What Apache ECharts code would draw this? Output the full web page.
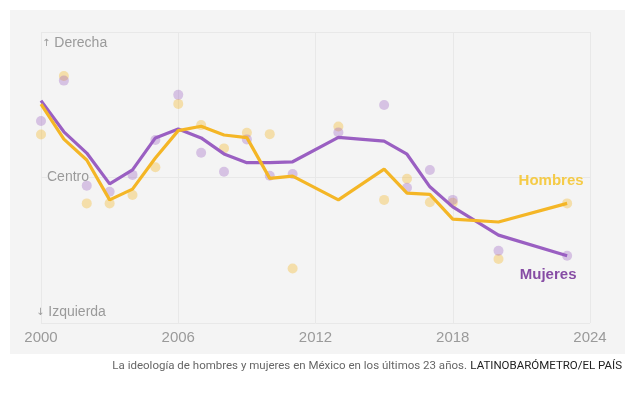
<!DOCTYPE html>
<html>
<head>
<meta charset="utf-8">
<script src="https://cdn.jsdelivr.net/npm/echarts@6/dist/echarts.min.js"></script>
<style>
  html, body { margin: 0; padding: 0; background: #fff; }
  #chart { width: 637px; height: 397px; }
</style>
</head>
<body>
<div id="chart"></div>
<script>
// años de la encuesta
var years = [2000, 2001, 2002, 2003, 2004, 2005, 2006, 2007, 2008, 2009, 2010, 2011, 2013, 2015, 2016, 2017, 2018, 2020, 2023];

// escala 0 (izquierda) - 10 (derecha), centro = 5
var hombresLinea = [7.52, 6.32, 5.60, 4.23, 4.60, 5.67, 6.61, 6.76, 6.46, 6.37, 4.97, 5.05, 4.23, 5.29, 4.46, 4.42, 3.57, 3.47, 4.11];
var mujeresLinea = [7.64, 6.57, 5.84, 4.78, 5.26, 6.36, 6.67, 6.36, 5.81, 5.51, 5.51, 5.54, 6.38, 6.25, 5.80, 4.68, 3.99, 3.02, 2.31];
var hombresPuntos = [6.48, 8.49, 4.11, 4.11, 4.40, 5.35, 7.53, 6.80, 6.00, 6.54, 6.49, 1.87, 6.75, 4.23, 4.96, 4.15, 4.13, 2.20, 4.11];
var mujeresPuntos = [6.94, 8.33, 4.72, 4.51, 5.09, 6.29, 7.84, 5.85, 5.20, 6.31, 5.06, 5.12, 6.55, 7.49, 4.65, 5.26, 4.23, 2.48, 2.31];

var yLabels = [
    {value: 10, arrow: '↑', text: 'Derecha'},
    {value: 5, arrow: '', text: 'Centro'},
    {value: 0, arrow: '↓', text: 'Izquierda'}
];
var caption = 'La ideología de hombres y mujeres en México en los últimos 23 años.';
var source = 'LATINOBARÓMETRO/EL PAÍS';

var AMARILLO = '#f4b626';
var MORADO = '#9a5fc2';
var GRIS = '#9a9a9a';
var FONT = '"Liberation Sans", Arial, sans-serif';

function pairs(vals) {
    var out = [];
    for (var i = 0; i < years.length; i++) {
        out.push([years[i], vals[i]]);
    }
    return out;
}

// el último punto lleva la etiqueta de la serie
function dotsWithLabel(vals, name, color, pos, offset) {
    var data = pairs(vals);
    var last = data.length - 1;
    data[last] = {
        value: data[last],
        label: {
            show: true,
            formatter: name,
            position: pos,
            offset: offset,
            color: color,
            fontFamily: FONT,
            fontWeight: 'bold',
            fontSize: 15
        }
    };
    return data;
}

var chart = echarts.init(document.getElementById('chart'));

var option = {
    animation: false,
    backgroundColor: '#fff',
    grid: {left: 41, right: 47, top: 32, bottom: 74},
    xAxis: {
        type: 'value',
        min: 2000,
        max: 2024,
        interval: 6,
        axisLine: {show: false},
        axisTick: {show: false},
        axisLabel: {
            color: GRIS,
            fontFamily: FONT,
            fontSize: 15,
            margin: 7,
            formatter: function (v) { return String(v); }
        },
        splitLine: {lineStyle: {color: '#e8e8e8', width: 1}}
    },
    yAxis: {
        type: 'value',
        min: 0,
        max: 10,
        interval: 5,
        axisLine: {show: false},
        axisTick: {show: false},
        axisLabel: {show: false},
        splitLine: {lineStyle: {color: '#e8e8e8', width: 1}}
    },
    series: [
        {
            name: 'Hombres puntos',
            type: 'scatter',
            symbolSize: 10,
            itemStyle: {color: 'rgba(245,184,38,0.45)'},
            data: dotsWithLabel(hombresPuntos, 'Hombres', '#f5c01c', 'top', [-16, -5]),
            z: 2
        },
        {
            name: 'Mujeres puntos',
            type: 'scatter',
            symbolSize: 10,
            itemStyle: {color: 'rgba(155,96,194,0.42)'},
            data: dotsWithLabel(mujeresPuntos, 'Mujeres', '#6a2290', 'bottom', [-19, 2]),
            z: 3
        },
        {
            name: 'Mujeres',
            type: 'line',
            showSymbol: false,
            lineStyle: {color: MORADO, width: 3.2},
            data: pairs(mujeresLinea),
            z: 4
        },
        {
            name: 'Hombres',
            type: 'line',
            showSymbol: false,
            lineStyle: {color: AMARILLO, width: 3.2},
            data: pairs(hombresLinea),
            z: 5
        }
    ]
};

chart.setOption(option);

// fondo, etiquetas del eje vertical y pie de foto
var graphics = [
    {
        type: 'rect',
        shape: {x: 10, y: 10, width: 615, height: 344},
        style: {fill: '#f4f4f4'},
        z: -10,
        silent: true
    }
];

yLabels.forEach(function (lab) {
    var p = chart.convertToPixel({gridIndex: 0}, [2000, lab.value]);
    var dy = lab.value === 10 ? 11 : (lab.value === 0 ? -11 : 0);
    var dx = lab.value === 10 ? 1 : (lab.value === 0 ? -5 : 6);
    graphics.push({
        type: 'text',
        x: p[0] + dx,
        y: p[1] + dy,
        z: 1,
        style: {
            text: lab.arrow ? '{f|' + lab.arrow + '} ' + lab.text : lab.text,
            fill: GRIS,
            fontFamily: FONT,
            fontSize: 14,
            verticalAlign: 'middle',
            align: 'left',
            backgroundColor: lab.arrow ? 'transparent' : '#f4f4f4',
            rich: {
                f: {fontSize: 10, fill: GRIS, fontFamily: '"DejaVu Sans", sans-serif'}
            }
        }
    });
});

graphics.push({
    type: 'text',
    x: 622,
    y: 366,
    style: {
        text: '{a|' + caption + '} {b|' + source + '}',
        align: 'right',
        verticalAlign: 'middle',
        rich: {
            a: {fill: '#666', fontFamily: 'Roboto, sans-serif', fontSize: 11.5},
            b: {fill: '#222', fontFamily: 'Roboto, sans-serif', fontSize: 11.5}
        }
    }
});

chart.setOption({graphic: graphics});
</script>
</body>
</html>
